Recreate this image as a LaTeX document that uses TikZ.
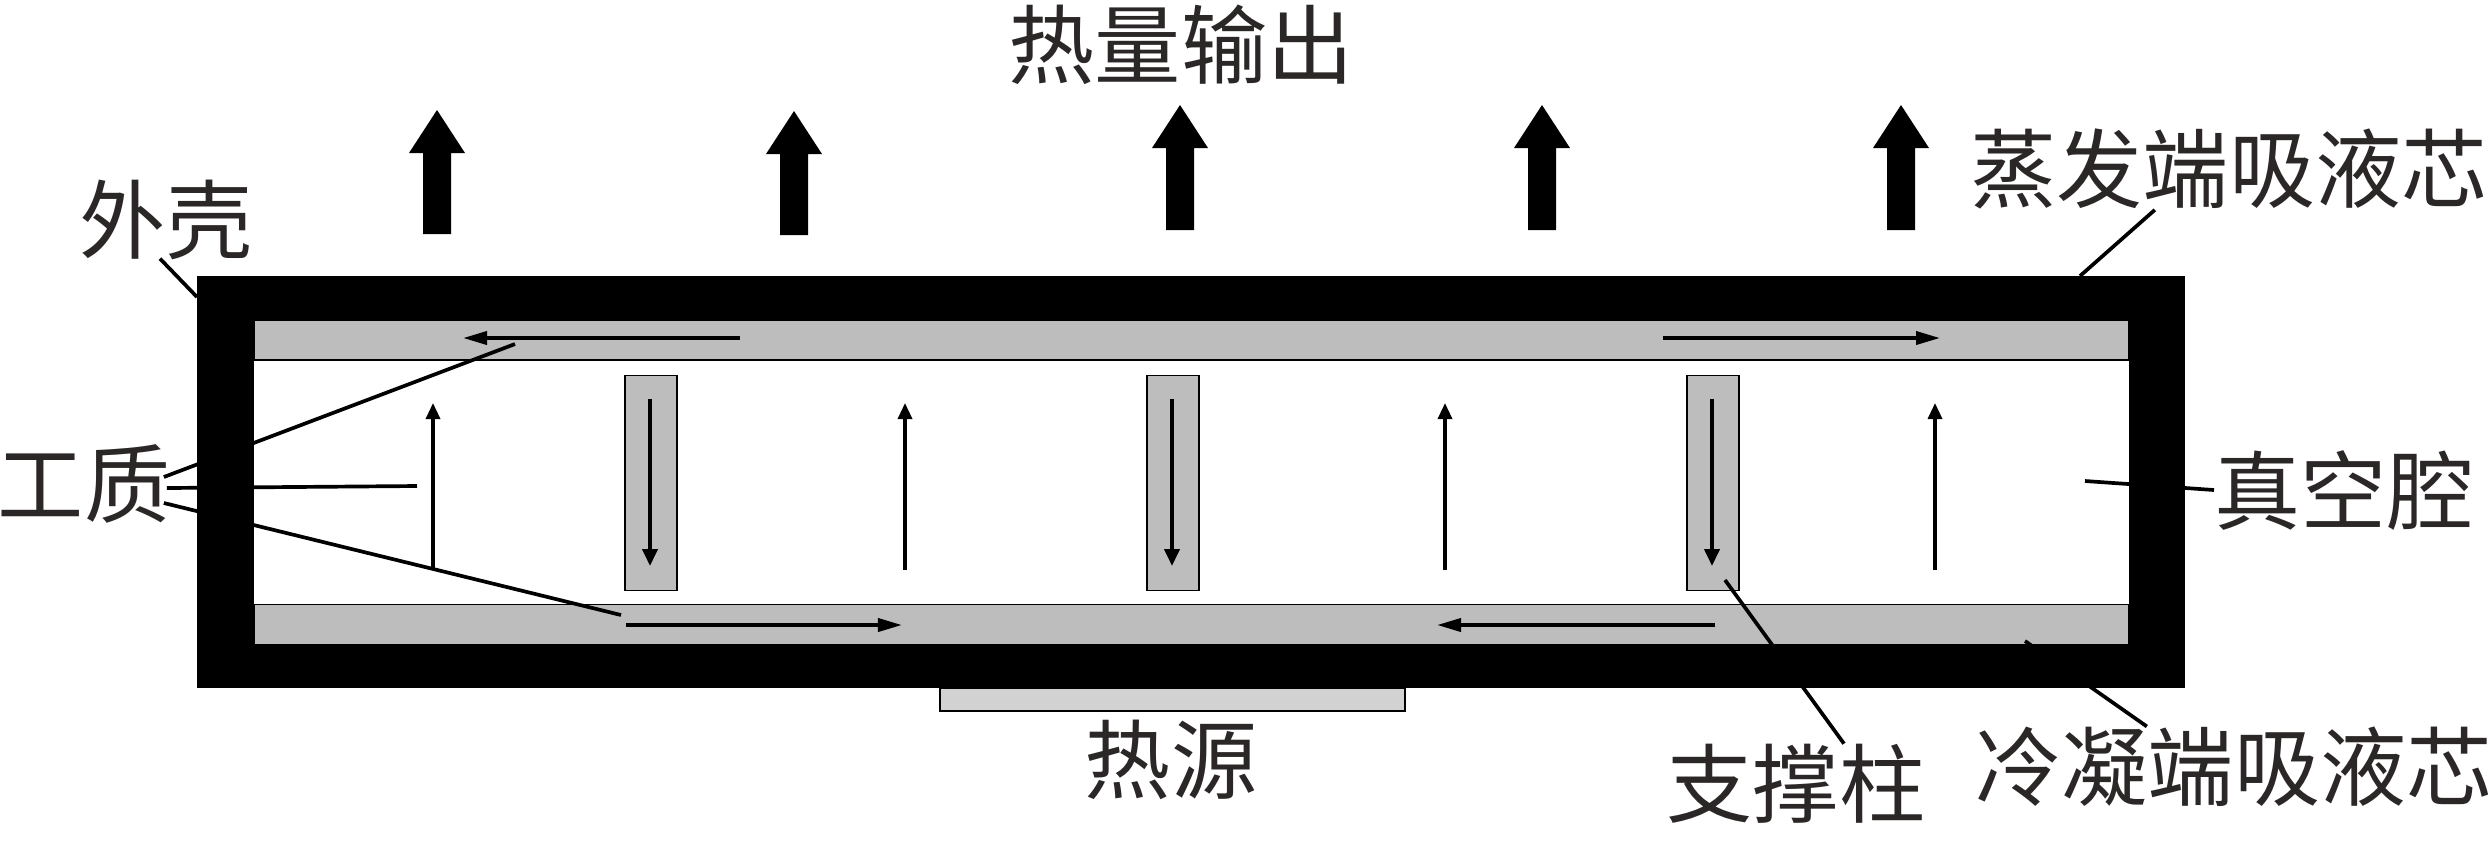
\documentclass[tikz,border=0pt]{standalone}
\usepackage{fontspec}
\setmainfont{Noto Sans CJK SC}
\usetikzlibrary{arrows.meta}
\definecolor{wickColor}{HTML}{BDBDBD}
\definecolor{sourceColor}{HTML}{D2D2D2}
\definecolor{labelColor}{HTML}{2B2727}
\tikzstyle{heatPipe} = [x = .01cm, y = -.01cm]
\tikzstyle{wickStyle} = [fill=wickColor, draw=black, line width=.35pt]
\tikzstyle{leaderLine} = [color=black, line width=1.05pt]
\tikzstyle{flowUp} = [color=black, line width=.95pt, -{Triangle[length=.16cm, width=.14cm]}]
\tikzstyle{flowDown} = [color=black, line width=1.1pt, -{Triangle[length=.17cm, width=.15cm]}]
\tikzstyle{flowAlong} = [color=black, line width=1.05pt, -{Triangle[length=.24cm, width=.13cm]}]
\tikzstyle{partLabel} = [font=\fontsize{24.5}{25}\selectfont, text=labelColor, inner sep=0pt]
\newcommand{\heatArrow}[3]{\fill [black] (#1 - 14, #3) -- (#1 - 14, #2 + 43) -- (#1 - 28, #2 + 43) -- (#1, #2) -- (#1 + 28, #2 + 43) -- (#1 + 14, #2 + 43) -- (#1 + 14, #3) -- cycle;}
\begin{document}
\begin{tikzpicture}[heatPipe]
  \useasboundingbox (0,0) rectangle (2490,841);
  % shell, wicks and source
  \fill [black] (197,276) rectangle (2185,688);
  \fill [white] (254,320) rectangle (2129,645);
  \filldraw [wickStyle] (254,320) rectangle (2129,360);
  \filldraw [wickStyle] (254,604.5) rectangle (2129,645);
  \filldraw [fill=sourceColor, draw=black, line width=.35pt] (940,688) rectangle (1405,711);
  % support columns
  \foreach \column in {625,1147,1687} {
    \filldraw [wickStyle] (\column,375.5) rectangle +(52,215);
    \draw [flowDown] (\column + 25,399) -- (\column + 25,566);
  }
  % vapour going up
  \foreach \column in {433,905,1445,1935} {
    \draw [flowUp] (\column,570) -- (\column,403);
  }
  % flow in the wicks
  \draw [flowAlong] (740,338) -- (463,338);
  \draw [flowAlong] (1663,338) -- (1940,338);
  \draw [flowAlong] (626,625) -- (902,625);
  \draw [flowAlong] (1715,625) -- (1437,625);
  % heat output
  \heatArrow{437}{110}{234}
  \heatArrow{794}{111}{235}
  \heatArrow{1180}{105}{230}
  \heatArrow{1542}{105}{230}
  \heatArrow{1901}{105}{230}
  % labels
  \node [partLabel] (outputLabel) at (1181,45) {热量输出};
  \node [partLabel] (shellLabel) at (166,220) {外壳};
  \node [partLabel] (mediumLabel) at (84,484) {工质};
  \node [partLabel] (hotWickLabel) at (2229,169) {蒸发端吸液芯};
  \node [partLabel] (vacuumLabel) at (2344,490) {真空腔};
  \node [partLabel] (sourceLabel) at (1171,760) {热源};
  \node [partLabel] (columnLabel) at (1796,784) {支撑柱};
  \node [partLabel] (coldWickLabel) at (2234,767) {冷凝端吸液芯};
  % leader ends
  \coordinate (shellEnd) at (197,297);
  \coordinate (upperEnd) at (515,344);
  \coordinate (middleEnd) at (417,486);
  \coordinate (lowerEnd) at (621,615);
  \coordinate (hotWickEnd) at (2080,276);
  \coordinate (vacuumEnd) at (2085,481);
  \coordinate (columnEnd) at (1725,580);
  \coordinate (coldWickEnd) at (2025,641);
  % leaders
  \draw [leaderLine] (shellLabel.south) ++(-6,-2) -- (shellEnd);
  \draw [leaderLine] (mediumLabel.east) ++(-7,-7) -- (upperEnd);
  \draw [leaderLine] (mediumLabel.east) ++(-4,4) -- (middleEnd);
  \draw [leaderLine] (mediumLabel.east) ++(-7,19) -- (lowerEnd);
  \draw [leaderLine] (hotWickLabel.south west) ++(185,0) -- (hotWickEnd);
  \draw [leaderLine] (vacuumLabel.west) -- (vacuumEnd);
  \draw [leaderLine] (columnLabel.north) ++(48,0) -- (columnEnd);
  \draw [leaderLine] (coldWickLabel.north west) ++(172,0) -- (coldWickEnd);
\end{tikzpicture}
\end{document}
